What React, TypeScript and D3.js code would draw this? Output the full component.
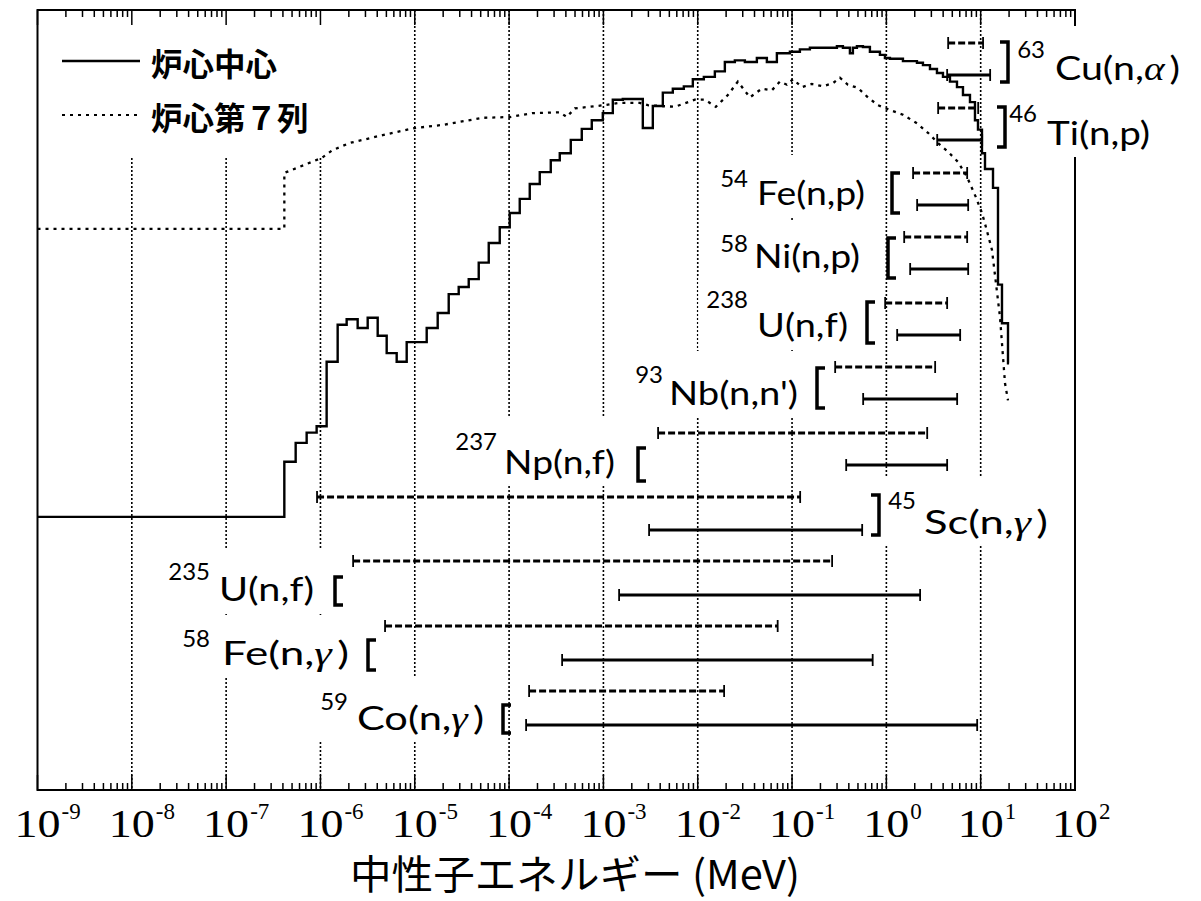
import React, { useEffect, useRef } from "react";
import * as d3 from "d3";

// ---------------- DATA ----------------
// Neutron spectrum at core centre (炉心中心): histogram, lower bin edges (MeV) and flux (arb.)
const centerBinE = [
  1e-9, 4.14e-7, 5.46e-7, 7.14e-7, 9.11e-7, 1.163e-6, 1.522e-6, 1.896e-6, 2.48e-6, 3.168e-6,
  4.044e-6, 5.037e-6, 6.43e-6, 8.21e-6, 1.338e-5, 1.75e-5, 2.29e-5, 2.923e-5, 3.733e-5, 4.766e-5,
  6.085e-5, 7.96e-5, 1.016e-4, 1.297e-4, 1.656e-4, 2.114e-4, 2.766e-4, 3.446e-4, 4.508e-4, 5.897e-4,
  7.528e-4, 9.85e-4, 1.258e-3, 1.605e-3, 2.617e-3, 3.341e-3, 4.265e-3, 5.445e-3, 7.123e-3, 8.873e-3,
  1.161e-2, 1.519e-2, 1.939e-2, 2.475e-2, 3.161e-2, 4.237e-2, 5.408e-2, 6.905e-2, 9.49e-2, 0.1211,
  0.1546, 0.299, 0.3462, 0.4108, 0.4418, 0.4873, 0.5643, 0.6693, 0.8548, 0.9658,
  1.091, 1.499, 2.11, 2.443, 2.899, 3.439, 3.982, 4.724, 5.607, 6.49,
  7.7, 8.7, 9.361, 10.32, 11.11, 13.51, 15.26, 16.82, 19.48,
];
const centerFlux = [
  35.6, 42.6, 45.0, 46.3, 47.1, 55.3, 60.0, 60.7, 59.6, 60.9,
  58.6, 56.4, 55.3, 57.8, 59.6, 61.5, 63.9, 64.8, 65.8, 67.9,
  70.4, 72.4, 74.2, 76.0, 77.9, 79.4, 80.9, 81.8, 83.5, 84.9,
  86.0, 86.9, 88.6, 88.7, 85.0, 87.8, 89.5, 90.0, 90.3, 91.2,
  91.5, 92.2, 93.4, 93.6, 93.4, 93.9, 93.4, 94.5, 94.7, 95.0,
  95.2, 95.4, 95.2, 94.5, 95.2, 95.4, 95.3, 94.7, 94.3, 93.9,
  93.8, 93.5, 93.3, 93.0, 92.5, 92.0, 91.5, 90.9, 90.2, 89.2,
  88.3, 86.0, 84.8, 81.8, 79.8, 77.4, 65.1, 60.2, 55.1,
];
const spectrumEndE = 20;

// Neutron spectrum at core row 7 (炉心第7列)
const row7E = [
  1e-9, 4.14e-7, 4.14e-7, 1.03e-6, 1.347e-6, 2.04e-6, 4.57e-6, 9.98e-6, 1.978e-5, 5.25e-5,
  1.016e-4, 1.781e-4, 3.446e-4, 4.09e-4, 4.97e-4, 1.009e-3, 1.492e-3, 2.43e-3, 2.957e-3, 5.72e-3,
  9.32e-3, 1.19e-2, 1.556e-2, 2.087e-2, 2.664e-2, 3.571e-2, 4.786e-2, 6.11e-2, 7.43e-2, 8.82e-2,
  0.1021, 0.1272, 0.1623, 0.2124, 0.2711, 0.3218, 0.3913, 0.4995, 0.6375, 0.814,
  1.091, 1.499, 2.11, 2.761, 3.525, 4.499, 5.743, 7.155, 8.905, 10.32,
  11.38, 13.18, 16.02, 18.1, 19.48,
];
const row7Flux = [
  72.2, 72.2, 79.3, 81.2, 82.2, 83.1, 84.1, 85.0, 85.4, 86.3,
  86.4, 86.9, 87.0, 86.4, 87.5, 87.9, 88.2, 88.2, 87.9, 87.7,
  88.6, 88.6, 87.7, 89.2, 90.9, 88.9, 90.0, 89.8, 90.9, 90.5,
  91.2, 90.2, 90.6, 90.3, 90.7, 91.4, 90.5, 90.1, 88.9, 87.9,
  87.3, 86.7, 85.6, 84.4, 83.1, 82.0, 80.7, 78.8, 76.2, 74.2,
  72.4, 69.5, 61.0, 52.6, 50.4,
];

const legendLabels = ["炉心中心", "炉心第７列"];

// Reactions and their response energy ranges (MeV)
const reactionMass = ["63", "46", "54", "58", "238", "93", "237", "45", "235", "58", "59"];
const reactionName = ["Cu(n,α)", "Ti(n,p)", "Fe(n,p)", "Ni(n,p)", "U(n,f)", "Nb(n,n')", "Np(n,f)", "Sc(n,γ)", "U(n,f)", "Fe(n,γ)", "Co(n,γ)"];
const centerLo = [4.41, 3.46, 2.12, 1.788, 1.302, 0.5675, 0.375, 3.05e-3, 1.467e-3, 3.65e-4, 1.515e-4];
const centerHi = [12.6, 10.37, 7.37, 7.37, 6.06, 5.63, 4.41, 0.554, 2.28, 0.716, 9.18];
const row7Lo = [4.52, 3.54, 1.92, 1.545, 0.971, 0.2865, 3.8e-3, 9.2e-7, 2.22e-6, 4.84e-6, 1.63e-4];
const row7Hi = [10.6, 9.41, 7.19, 7.19, 4.41, 3.29, 2.71, 0.1219, 0.266, 7.04e-2, 1.905e-2];

const decadeExp = ["-9", "-8", "-7", "-6", "-5", "-4", "-3", "-2", "-1", "0", "1", "2"];
const gridExp = [-8, -7, -6, -5, -4, -3, -2, -1, 0, 1];
const xTitle = "中性子エネルギー (MeV)";

// ---------------- LAYOUT ----------------
const W = 1201;
const H = 901;
const PL = 37.5, PR = 1075, PT = 10, PB = 790;
const rowDashY = [43, 108, 173, 237, 303, 367, 433, 497, 561, 626, 691];
const rowSolidY = [75, 140, 205, 269, 335, 399, 465, 530, 595, 660, 725];
const supEnd = [1045, 1037, 748, 748, 748, 663, 497, 916, 210, 210, 348];
const supBase = [58, 122, 187, 252, 308, 383, 450, 509, 580, 647, 710];
const mainX = [1055, 1047, 757, 754, 757, 669, 504, 924, 219, 222, 357];
const mainW = [125, 103, 108, 106, 91, 129, 111, 124, 95, 127, 127];
const mainBase = [80, 145, 205, 268, 337, 405, 474, 534, 601, 665, 730];
const brX = [1008, 1005, 892, 888, 867, 817, 638, 879, 335, 368, 503];
const brRight = [true, true, false, false, false, false, false, true, false, false, false];
const brY0 = [42, 107, 173, 238, 302, 368, 448, 495, 577, 640, 705];
const brY1 = [82, 147, 213, 278, 343, 408, 481, 535, 605, 670, 733];

export default function App() {
  const ref = useRef<SVGSVGElement>(null);

  useEffect(() => {
    const svg = d3.select(ref.current);
    svg.selectAll("*").remove();
    const x = d3.scaleLog().domain([1e-9, 1e2]).range([PL, PR]);
    const y = d3.scaleLinear().domain([0, 100]).range([797, 10]);

    svg.append("rect").attr("width", W).attr("height", H).attr("fill", "#fff");

    // grid lines
    const grid = svg.append("g");
    gridExp.forEach((e) => {
      grid.append("line")
        .attr("x1", x(Math.pow(10, e))).attr("x2", x(Math.pow(10, e)))
        .attr("y1", PT).attr("y2", PB)
        .attr("stroke", "#000").attr("stroke-width", 1.6).attr("stroke-dasharray", "2,2");
    });

    // legend background
    svg.append("rect").attr("x", PL).attr("y", PT).attr("width", 335 - PL).attr("height", 157 - PT).attr("fill", "#fff");

    // frame
    svg.append("rect").attr("x", PL).attr("y", PT).attr("width", PR - PL).attr("height", PB - PT)
      .attr("fill", "none").attr("stroke", "#000").attr("stroke-width", 2);

    // ticks (top & bottom, inward)
    const ticks = x.ticks(20);
    const tg = svg.append("g").attr("stroke", "#000").attr("stroke-width", 1.5);
    ticks.forEach((t) => {
      const major = Math.abs(Math.log10(t) - Math.round(Math.log10(t))) < 1e-6;
      const len = major ? 15 : 7;
      const xx = x(t);
      tg.append("line").attr("x1", xx).attr("x2", xx).attr("y1", PB).attr("y2", PB - len);
      tg.append("line").attr("x1", xx).attr("x2", xx).attr("y1", PT).attr("y2", PT + len);
    });

    // spectra
    const centerPts: [number, number][] = centerBinE.map((e, i) => [e, centerFlux[i]]);
    centerPts.push([spectrumEndE, centerFlux[centerFlux.length - 1]]);
    const stepLine = d3.line<[number, number]>().x((d) => x(d[0])).y((d) => y(d[1])).curve(d3.curveStepAfter);
    svg.append("path").attr("d", stepLine(centerPts)!).attr("fill", "none")
      .attr("stroke", "#000").attr("stroke-width", 2.4);

    const row7Pts: [number, number][] = row7E.map((e, i) => [e, row7Flux[i]]);
    const lin = d3.line<[number, number]>().x((d) => x(d[0])).y((d) => y(d[1]));
    svg.append("path").attr("d", lin(row7Pts)!).attr("fill", "none")
      .attr("stroke", "#000").attr("stroke-width", 2.3).attr("stroke-dasharray", "3,5");

    // response bars
    const bars = svg.append("g");
    const drawBar = (lo: number, hi: number, yy: number, dashed: boolean) => {
      const x0 = x(lo), x1 = x(hi);
      bars.append("line").attr("x1", x0).attr("x2", x1).attr("y1", yy).attr("y2", yy)
        .attr("stroke", "#000").attr("stroke-width", dashed ? 2.8 : 3)
        .attr("stroke-dasharray", dashed ? "7,3" : null);
      [x0, x1].forEach((xx) => {
        bars.append("line").attr("x1", xx).attr("x2", xx).attr("y1", yy - 6).attr("y2", yy + 6)
          .attr("stroke", "#000").attr("stroke-width", 1.8);
      });
    };
    reactionName.forEach((_, i) => {
      drawBar(row7Lo[i], row7Hi[i], rowDashY[i], true);
      drawBar(centerLo[i], centerHi[i], rowSolidY[i], false);
    });

    // labels with white boxes
    const labels = svg.append("g");
    reactionName.forEach((name, i) => {
      const g = labels.append("g");
      g.append("text").attr("x", supEnd[i]).attr("y", supBase[i]).attr("text-anchor", "end")
        .attr("font-family", "Lato, sans-serif").attr("font-size", 24).text(reactionMass[i]);
      const t = g.append("text").attr("x", mainX[i]).attr("y", mainBase[i])
        .attr("font-family", "Lato, sans-serif").attr("font-size", 33)
        .attr("textLength", mainW[i]).attr("lengthAdjust", "spacingAndGlyphs");
      const parts = name.split(/([αγ])/).filter((p) => p.length);
      let prevGreek = false;
      parts.forEach((p) => {
        if (p === "α" || p === "γ") {
          t.append("tspan").attr("font-family", "'Liberation Serif', serif").attr("font-style", "italic").text(p);
          prevGreek = true;
        } else {
          t.append("tspan").text(prevGreek ? "\u2009" + p : p);
          prevGreek = false;
        }
      });
      const bb = (g.node() as SVGGElement).getBBox();
      g.insert("rect", ":first-child").attr("x", bb.x - 8).attr("y", bb.y - 8)
        .attr("width", bb.width + 16).attr("height", bb.height + 13).attr("fill", "#fff");
      // bracket
      const dx = brRight[i] ? -8 : 8;
      labels.append("path")
        .attr("d", `M${brX[i] + dx},${brY0[i]}H${brX[i]}V${brY1[i]}H${brX[i] + dx}`)
        .attr("fill", "none").attr("stroke", "#000").attr("stroke-width", 3.5);
    });

    // legend
    const lg = svg.append("g");
    lg.append("line").attr("x1", 62).attr("x2", 140).attr("y1", 61).attr("y2", 61)
      .attr("stroke", "#000").attr("stroke-width", 2.4);
    lg.append("line").attr("x1", 62).attr("x2", 140).attr("y1", 115).attr("y2", 115)
      .attr("stroke", "#000").attr("stroke-width", 2.2).attr("stroke-dasharray", "3,5");
    legendLabels.forEach((lab, i) => {
      lg.append("text").attr("x", 151).attr("y", i === 0 ? 62 : 116).attr("dominant-baseline", "central")
        .attr("font-family", "'Noto Sans CJK JP', sans-serif").attr("font-size", 31.5).attr("font-weight", 600)
        .text(lab);
    });

    // tick labels
    const ax = svg.append("g");
    decadeExp.forEach((e) => {
      const cx = x(Math.pow(10, +e));
      ax.append("text").attr("x", cx - 23).attr("y", 837)
        .attr("font-family", "'Liberation Serif', serif").attr("font-size", 40)
        .attr("textLength", 46).attr("lengthAdjust", "spacingAndGlyphs").text("10");
      ax.append("text").attr("x", cx + 24).attr("y", 819)
        .attr("font-family", "'Liberation Serif', serif").attr("font-size", 23).text(e);
    });

    // axis title
    svg.append("text").attr("x", 350).attr("y", 872).attr("dominant-baseline", "central")
      .attr("font-family", "'Noto Sans CJK JP', sans-serif").attr("font-size", 40).attr("font-weight", 400)
      .attr("textLength", 450).attr("lengthAdjust", "spacingAndGlyphs")
      .text(xTitle);
  }, []);

  return (
    <svg ref={ref} width={W} height={H} style={{ position: "absolute", left: 0, top: 0, display: "block" }} />
  );
}
